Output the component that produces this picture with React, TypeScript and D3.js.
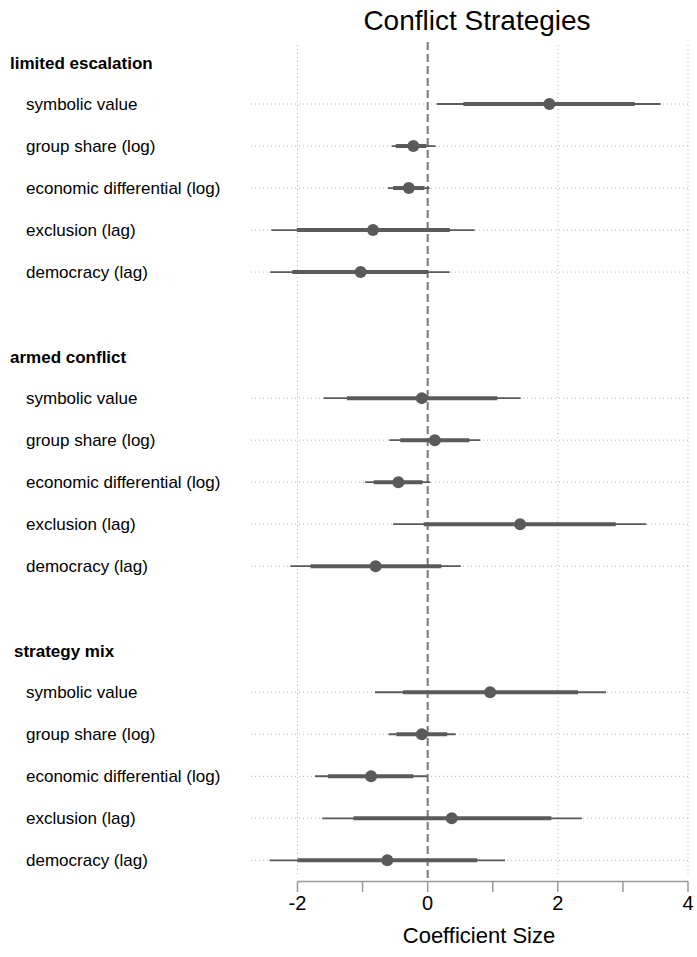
import React from "react";
import * as d3 from "d3";

const groups = ["limited escalation", "armed conflict", "strategy mix"];
const groupIndent = [10, 10, 14];
const variables = [
  "symbolic value",
  "group share (log)",
  "economic differential (log)",
  "exclusion (lag)",
  "democracy (lag)",
];

// per group, per variable: estimates
const estimates = [
  [1.87, -0.22, -0.29, -0.84, -1.03],
  [-0.09, 0.11, -0.45, 1.42, -0.8],
  [0.96, -0.09, -0.87, 0.37, -0.62],
];
// inner (thick) interval
const innerLo = [
  [0.55, -0.49, -0.53, -2.01, -2.08],
  [-1.24, -0.42, -0.83, -0.06, -1.8],
  [-0.38, -0.48, -1.53, -1.14, -2.0],
];
const innerHi = [
  [3.18, -0.02, -0.05, 0.34, 0.0],
  [1.07, 0.64, -0.08, 2.89, 0.21],
  [2.31, 0.3, -0.22, 1.9, 0.76],
];
// outer (thin) interval
const outerLo = [
  [0.14, -0.55, -0.61, -2.4, -2.42],
  [-1.6, -0.59, -0.96, -0.53, -2.11],
  [-0.81, -0.6, -1.73, -1.62, -2.43],
];
const outerHi = [
  [3.58, 0.12, 0.03, 0.72, 0.34],
  [1.43, 0.81, 0.04, 3.36, 0.51],
  [2.74, 0.43, -0.01, 2.37, 1.19],
];

const xTicks = [-2, -1, 0, 1, 2, 3, 4];
const xLabelTicks = [-2, 0, 2, 4];
const gridTicks = [-2, 2, 4];

export default function App() {
  const W = 697;
  const H = 957;
  const x = d3.scaleLinear().domain([-2, 4]).range([297.5, 688]);
  const y = d3.scaleLinear().domain([0, 19]).range([62, 860.3]);
  const font = "Liberation Sans, Arial, sans-serif";
  const col = "#5a5a5a";

  const rows: { g: number; v: number; idx: number }[] = [];
  groups.forEach((_, g) => {
    variables.forEach((_, v) => {
      rows.push({ g, v, idx: g * 7 + 1 + v });
    });
  });

  return (
    <svg
      width={W}
      height={H}
      style={{ position: "absolute", left: 0, top: 0, background: "#fff" }}
      fontFamily={font}
    >
      <text x={477} y={30} fontSize={28} textAnchor="middle" fill="#000">
        Conflict Strategies
      </text>

      {/* vertical grid */}
      {gridTicks.map((t) => (
        <line
          key={"vg" + t}
          x1={x(t)}
          x2={x(t)}
          y1={45}
          y2={875}
          stroke="#b8b8b8"
          strokeWidth={1}
          strokeDasharray="1,3"
        />
      ))}

      {/* horizontal grid */}
      {rows.map((r) => (
        <line
          key={"hg" + r.idx}
          x1={251}
          x2={690}
          y1={y(r.idx)}
          y2={y(r.idx)}
          stroke="#b8b8b8"
          strokeWidth={1}
          strokeDasharray="1,3"
        />
      ))}

      {/* zero line */}
      <line
        x1={x(0)}
        x2={x(0)}
        y1={42}
        y2={878}
        stroke="#777"
        strokeWidth={2}
        strokeDasharray="8,4"
      />

      {/* group headers */}
      {groups.map((g, i) => (
        <text
          key={g}
          x={groupIndent[i]}
          y={y(i * 7) + 6.5}
          fontSize={17}
          fontWeight="bold"
          fill="#000"
        >
          {g}
        </text>
      ))}

      {/* variable labels */}
      {rows.map((r) => (
        <text key={"lab" + r.idx} x={26} y={y(r.idx) + 6} fontSize={17} fill="#000">
          {variables[r.v]}
        </text>
      ))}

      {/* intervals and points */}
      {rows.map((r) => {
        const yy = y(r.idx);
        return (
          <g key={"pt" + r.idx}>
            <line
              x1={x(outerLo[r.g][r.v])}
              x2={x(outerHi[r.g][r.v])}
              y1={yy}
              y2={yy}
              stroke={col}
              strokeWidth={1.8}
            />
            <line
              x1={x(innerLo[r.g][r.v])}
              x2={x(innerHi[r.g][r.v])}
              y1={yy}
              y2={yy}
              stroke={col}
              strokeWidth={4}
            />
            <circle cx={x(estimates[r.g][r.v])} cy={yy} r={6} fill={col} />
          </g>
        );
      })}

      {/* x axis */}
      <line x1={x(-2)} x2={x(4)} y1={881.5} y2={881.5} stroke="#999" strokeWidth={1.5} />
      {xTicks.map((t) => (
        <line
          key={"t" + t}
          x1={x(t)}
          x2={x(t)}
          y1={881.5}
          y2={892}
          stroke="#999"
          strokeWidth={1.5}
        />
      ))}
      {xLabelTicks.map((t) => (
        <text key={"tl" + t} x={x(t)} y={910} fontSize={20} textAnchor="middle" fill="#000">
          {t}
        </text>
      ))}
      <text x={479} y={943} fontSize={22} textAnchor="middle" fill="#000">
        Coefficient Size
      </text>
    </svg>
  );
}
